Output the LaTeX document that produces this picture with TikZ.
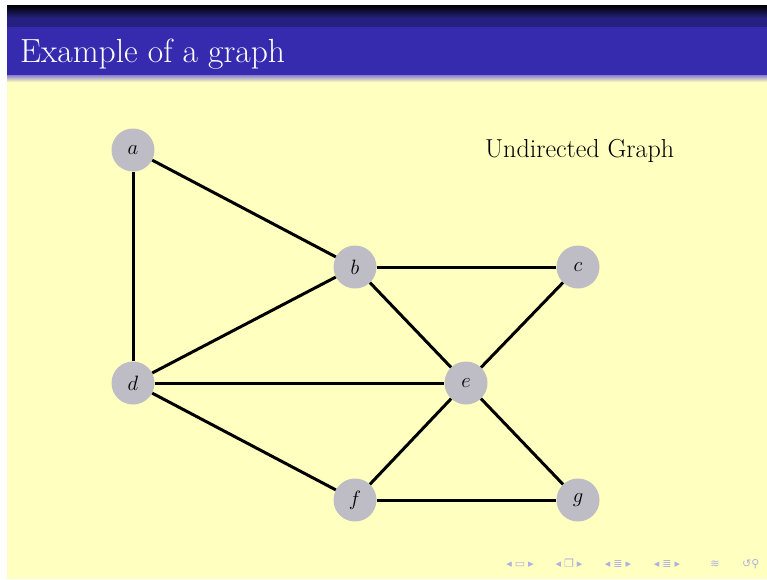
\documentclass[tikz,border=0pt]{standalone}
\usepackage{fontspec}
\newfontfamily\symfont{DejaVu Sans}
\definecolor{slidebg}{RGB}{255,255,191}
\definecolor{headblue}{RGB}{54,42,175}
\definecolor{headdark}{RGB}{38,32,128}
\definecolor{nodegray}{RGB}{190,188,196}
\definecolor{navcol}{RGB}{175,175,225}
\begin{document}
\begin{tikzpicture}[x=1pt,y=-1pt,
  vertex/.style={circle,fill=nodegray,minimum size=43pt,inner sep=0pt,font=\fontsize{22}{26}\selectfont},
  edge/.style={line width=3pt,black},
  navsym/.style={anchor=base,text=navcol,font=\symfont\fontsize{11}{12}\selectfont,inner sep=0pt}]
\useasboundingbox (0,0) rectangle (767,579);
\fill[white] (0,0) rectangle (767,579);
\fill[slidebg] (7,5) rectangle (767,579);
% header
\shade[top color=black,bottom color=headdark] (7,5) rectangle (767,18);
\fill[headdark] (7,18) rectangle (767,27);
\fill[headblue] (7,27) rectangle (767,75);
\shade[top color=headblue!60!white,bottom color=slidebg] (7,75) rectangle (767,82);
\node[anchor=base west,text=white,font=\fontsize{33.5}{38}\selectfont,inner sep=0pt] (title) at (20,62) {Example of a graph};
\node[anchor=base west,font=\fontsize{26}{30}\selectfont,inner sep=0pt] (label) at (485,157) {Undirected Graph};
% vertices
\node[vertex] (a) at (133,150) {$a$};
\node[vertex] (b) at (355,267) {$b$};
\node[vertex] (c) at (578,267) {$c$};
\node[vertex] (d) at (133,383) {$d$};
\node[vertex] (e) at (466,383) {$e$};
\node[vertex] (f) at (355,500) {$f$};
\node[vertex] (g) at (578,500) {$g$};
% edges
\draw[edge] (a) -- (b);
\draw[edge] (a) -- (d);
\draw[edge] (b) -- (c);
\draw[edge] (b) -- (d);
\draw[edge] (b) -- (e);
\draw[edge] (c) -- (e);
\draw[edge] (d) -- (e);
\draw[edge] (d) -- (f);
\draw[edge] (e) -- (f);
\draw[edge] (e) -- (g);
\draw[edge] (f) -- (g);
% navigation symbols
\node[navsym] (n1) at (520,567) {◂\hspace{3pt}▭\hspace{3pt}▸};
\node[navsym] (n2) at (569,567) {◂\hspace{3pt}❐\hspace{3pt}▸};
\node[navsym] (n3) at (618,567) {◂\hspace{3pt}≣\hspace{3pt}▸};
\node[navsym] (n4) at (667,567) {◂\hspace{3pt}≣\hspace{3pt}▸};
\node[navsym] (n5) at (715,567) {≋};
\node[navsym,anchor=base west] (n6) at (742,567) {↺⚲};
\end{tikzpicture}
\end{document}
